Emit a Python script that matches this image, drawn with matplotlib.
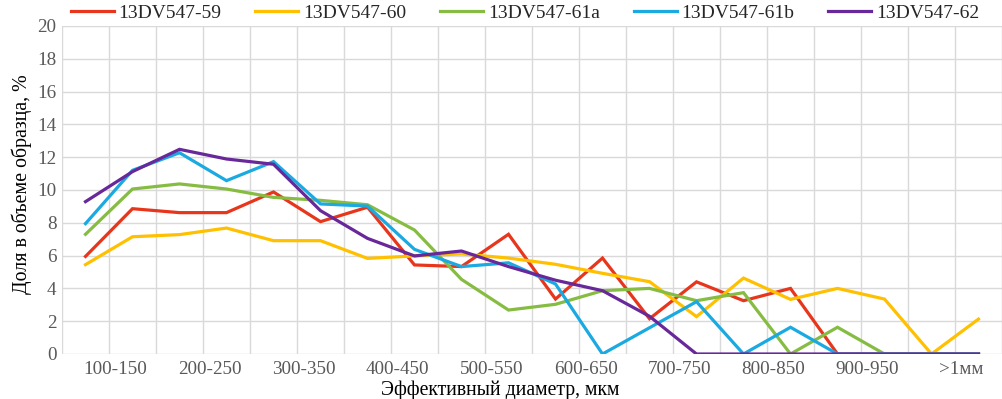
import matplotlib
matplotlib.use("Agg")
import matplotlib.pyplot as plt
import numpy as np

categories = ["50-100", "100-150", "150-200", "200-250", "250-300", "300-350",
              "350-400", "400-450", "450-500", "500-550", "550-600", "600-650",
              "650-700", "700-750", "750-800", "800-850", "850-900", "900-950",
              "950-1000", ">1мм"]

s59 = [5.95, 8.86, 8.62, 8.62, 9.88, 8.07, 8.95, 5.43, 5.33, 7.3, 3.35, 5.85,
       2.15, 4.4, 3.25, 4.0, 0, 0, 0, 0]
s60 = [5.45, 7.15, 7.28, 7.68, 6.91, 6.91, 5.83, 5.98, 6.1, 5.85, 5.47, 4.92,
       4.41, 2.28, 4.63, 3.33, 4.0, 3.35, 0, 2.13]
s61a = [7.3, 10.06, 10.37, 10.06, 9.55, 9.37, 9.1, 7.56, 4.55, 2.68, 3.03, 3.86,
        4.0, 3.25, 3.74, 0, 1.63, 0, 0, 0]
s61b = [7.95, 11.2, 12.27, 10.57, 11.73, 9.15, 9.02, 6.38, 5.33, 5.56, 4.27, 0,
        1.6, 3.19, 0, 1.63, 0, 0, 0, 0]
s62 = [9.29, 11.12, 12.48, 11.89, 11.57, 8.74, 7.05, 5.98, 6.28, 5.33, 4.5, 3.86,
       2.3, 0, 0, 0, 0, 0, 0, 0]

series_names = ["13DV547-59", "13DV547-60", "13DV547-61a", "13DV547-61b", "13DV547-62"]
series_vals = [s59, s60, s61a, s61b, s62]
colors = ["#E8361C", "#FFC000", "#86BC42", "#1BA9E1", "#68289A"]

plt.rcParams['font.family'] = ['Liberation Serif', 'DejaVu Serif']

fig = plt.figure(figsize=(10.02, 3.99), dpi=100)
ax = fig.add_axes([62/1002, 1-354/399, 940/1002, (354-26)/399])

x = np.arange(len(categories))
for name, vals, c in zip(series_names, series_vals, colors):
    ax.plot(x, vals, color=c, lw=2.3, label=name, solid_joinstyle='miter', zorder=3)

ax.set_xlim(-0.5, len(categories) - 0.5)
ax.set_ylim(0, 20)
ax.set_yticks(np.arange(0, 21, 2))
ax.set_xticks(np.arange(-0.5, len(categories), 1.0), minor=True)
lab_idx = list(range(1, len(categories), 2))
ax.set_xticks([i - 0.36 for i in lab_idx])
ax.set_xticklabels([categories[i] for i in lab_idx])

ax.grid(True, which='major', axis='y', color='#D9D9D9', lw=1.0, zorder=0)
ax.grid(True, which='minor', axis='x', color='#D9D9D9', lw=1.0, zorder=0)
ax.tick_params(axis='both', which='both', length=0, labelsize=13.8, colors='#595959')
ax.tick_params(axis='x', pad=5)
ax.tick_params(axis='y', pad=4)
for s in ax.spines.values():
    s.set_visible(False)

fig.text(22/1002, 1 - 184/399, "Доля в объеме образца, %", fontsize=14.3,
         color='black', rotation=90, ha='center', va='center')
fig.text(500/1002, 1 - 390/399, "Эффективный диаметр, мкм", fontsize=14.2,
         color='black', ha='center', va='center')

fig.legend(loc='center', bbox_to_anchor=(0.524, 1 - 13/399), ncol=5, frameon=False,
           fontsize=14, handlelength=2.2, handletextpad=0.25, columnspacing=1.75,
           labelcolor='#262626')

fig.savefig("out.png", dpi=100)
